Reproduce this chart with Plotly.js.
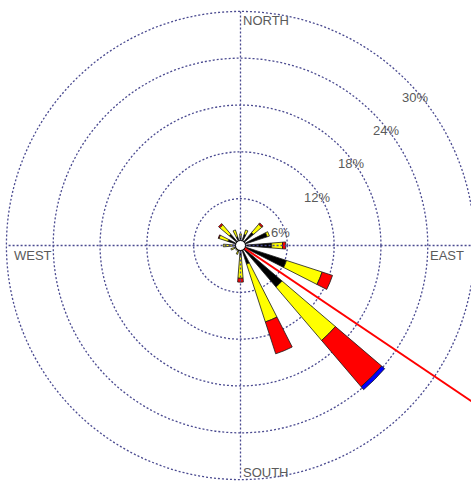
<!DOCTYPE html>
<html>
<head>
<meta charset="utf-8">
<script src="https://cdn.plot.ly/plotly-3.0.1.min.js"></script>
<style>
  html, body { margin: 0; padding: 0; overflow: hidden; background: #fff; width: 471px; height: 485px; }
  #rose { position: absolute; left: -56px; top: -51px; width: 593px; height: 593px; }
</style>
</head>
<body>
<div id="rose"></div>
<script>
// Wind rose: frequency (%) of winds per direction sector, stacked by speed class
var directions = ['N', 'NNE', 'NE', 'ENE', 'E', 'ESE', 'SE', 'SSE',
                  'S', 'SSW', 'SW', 'WSW', 'W', 'WNW', 'NW', 'NNW'];
var sectorAngles = [0, 22.5, 45, 67.5, 90, 112.5, 135, 157.5,
                    180, 202.5, 225, 247.5, 270, 292.5, 315, 337.5];

// speed classes, lowest first
var classColors = ['#000000', '#ffff00', '#ff0000', '#0000ff'];
var classA = [1.0, 1.5, 2.2, 3.6, 4.0, 6.2, 7.0, 2.5, 1.3, 0.8, 0.5, 0.8, 1.0, 1.7, 1.9, 1.2];
var classB = [0.5, 0.6, 1.4, 0.3, 1.4, 4.8, 9.0, 7.8, 2.9, 0.4, 0.3, 0.5, 1.2, 1.2, 1.6, 0.9];
var classC = [0.0, 0.0, 0.2, 0.0, 0.4, 1.4, 7.8, 4.3, 0.5, 0.0, 0.0, 0.0, 0.0, 0.1, 0.2, 0.0];
var classD = [0.0, 0.0, 0.0, 0.0, 0.0, 0.0, 0.5, 0.0, 0.0, 0.0, 0.0, 0.0, 0.0, 0.0, 0.0, 0.0];

// resultant vector direction (degrees) and length (%)
var resultantDir = 124;
var resultantLen = [0, 40];
var ringValues = [6, 12, 18, 24, 30];
var ringLabels = ['6%', '12%', '18%', '24%', '30%'];
var compassLabels = ['NORTH', 'SOUTH', 'WEST', 'EAST'];
var compassDirs = [0, 180, 90, 270];
var outerRing = 30;

// the plot div is larger than the page and shifted so the rose sits at (240.5, 245.5)
var W = 593, H = 593, OFFX = 56, OFFY = 51;
var gridColor = '#4a4a90';
var gridDash = '2px,2px';
var gridWidth = 1.3;
var textFont = { family: 'Liberation Sans, Arial, sans-serif', size: 13, color: '#5a5a5a' };

var classes = [classA, classB, classC, classD];
var traces = [];

// cardinal axis lines, stopping at the outer ring
traces.push({
  type: 'scatterpolar',
  mode: 'lines',
  r: [outerRing, 0, outerRing],
  theta: [compassDirs[0], compassDirs[0], compassDirs[1]],
  line: { color: gridColor, width: gridWidth, dash: gridDash },
  hoverinfo: 'skip'
});
traces.push({
  type: 'scatterpolar',
  mode: 'lines',
  r: [outerRing, 0, outerRing],
  theta: [compassDirs[2], compassDirs[2], compassDirs[3]],
  line: { color: gridColor, width: gridWidth, dash: gridDash },
  hoverinfo: 'skip'
});

classes.forEach(function (vals, i) {
  traces.push({
    type: 'barpolar',
    r: vals,
    theta: sectorAngles,
    width: 9,
    marker: { color: classColors[i], line: { color: '#1a1a1a', width: 0.8 } },
    hoverinfo: 'skip'
  });
});

traces.push({
  type: 'scatterpolar',
  mode: 'lines',
  r: resultantLen,
  theta: [resultantDir, resultantDir],
  line: { color: '#ff0000', width: 2 },
  hoverinfo: 'skip'
});

// calm circle at the centre
traces.push({
  type: 'scatterpolar',
  mode: 'markers',
  r: [0],
  theta: [0],
  marker: { size: 10, color: '#ffffff', line: { color: '#000000', width: 1 } },
  cliponaxis: false,
  hoverinfo: 'skip'
});

function px(x) { return (x + OFFX) / W; }
function py(y) { return 1 - (y + OFFY) / H; }

var ringPos = [[280, 232], [317, 197], [351, 163], [386, 131], [415, 97]];
var annotations = ringLabels.map(function (t, i) {
  return { text: t, x: px(ringPos[i][0]), y: py(ringPos[i][1]), xref: 'paper', yref: 'paper',
           xanchor: 'center', yanchor: 'middle', showarrow: false, font: textFont };
});
var compassPos = [[241, 20], [241, 472], [12, 255], [428, 255]];
compassLabels.forEach(function (t, i) {
  annotations.push({ text: t, x: px(compassPos[i][0]), y: py(compassPos[i][1]), xref: 'paper', yref: 'paper',
                     xanchor: 'left', yanchor: 'middle', showarrow: false, font: textFont });
});

var layout = {
  width: W,
  height: H,
  margin: { l: 0, r: 0, t: 0, b: 0, pad: 0 },
  paper_bgcolor: 'rgba(0,0,0,0)',
  showlegend: false,
  polar: {
    domain: { x: [0, 1], y: [0, 1] },
    bgcolor: 'rgba(0,0,0,0)',
    barmode: 'stack',
    radialaxis: {
      range: [0, 38],
      tickvals: ringValues,
      showticklabels: false,
      ticks: '',
      showline: false,
      gridcolor: gridColor,
      griddash: gridDash,
      gridwidth: gridWidth
    },
    angularaxis: {
      rotation: 90,
      direction: 'clockwise',
      showgrid: false,
      showticklabels: false,
      ticks: '',
      showline: false
    }
  },
  annotations: annotations
};

Plotly.newPlot('rose', traces, layout, { staticPlot: true, displayModeBar: false });
</script>
</body>
</html>
